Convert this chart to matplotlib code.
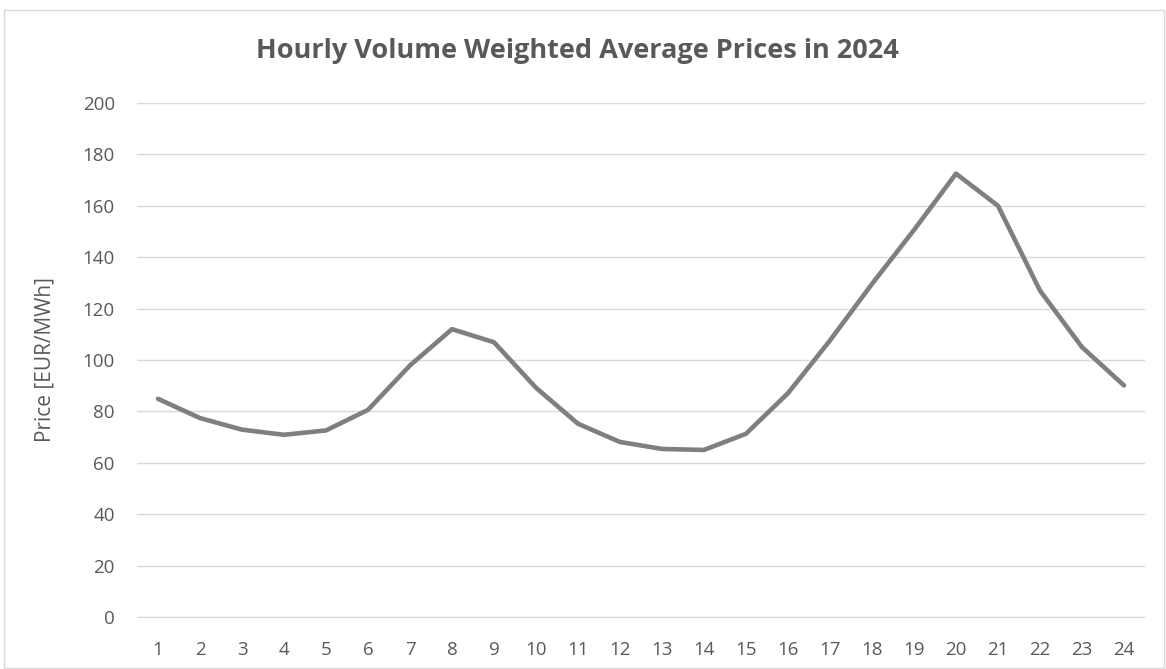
import matplotlib.pyplot as plt
from matplotlib.patches import Rectangle

hours = list(range(1, 25))
prices = [84.9, 77.4, 72.9, 70.9, 72.6, 80.6, 97.9, 112.0, 106.9, 89.2,
          75.2, 68.1, 65.4, 65.0, 71.3, 87.1, 107.6, 129.6, 150.6, 172.5,
          160.0, 127.0, 105.0, 90.1]
yticks = list(range(0, 201, 20))

plt.rcParams['font.family'] = ['Open Sans', 'DejaVu Sans']
txt = '#595959'

fig = plt.figure(figsize=(11.66, 6.69), dpi=100)
fig.patches.append(Rectangle((4 / 1166, 1 / 669), 1160 / 1166, 658 / 669,
                             transform=fig.transFigure, fill=False,
                             edgecolor='#d9d9d9', linewidth=1))
ax = fig.add_axes([137 / 1166, 1 - 617 / 669, 1008 / 1166, 514 / 669])

ax.plot(hours, prices, color='#7f7f7f', linewidth=3.3, solid_joinstyle='round',
        solid_capstyle='round', zorder=3)

ax.set_xlim(0.5, 24.5)
ax.set_ylim(0, 200)
ax.set_xticks(hours)
ax.set_yticks(yticks)
ax.tick_params(axis='both', length=0, labelsize=13.5, labelcolor=txt)
ax.tick_params(axis='x', pad=17)
ax.tick_params(axis='y', pad=16)
ax.grid(axis='y', color='#d9d9d9', linewidth=1)
ax.set_axisbelow(True)
for s in ['top', 'right', 'left']:
    ax.spines[s].set_visible(False)
ax.spines['bottom'].set_color('#d9d9d9')

ax.set_ylabel('Price [EUR/MWh]', fontsize=15, color=txt)
ax.yaxis.set_label_coords(-82 / 1008, 0.5)
fig.text(0.495, 1 - 51 / 669, 'Hourly Volume Weighted Average Prices in 2024',
         ha='center', va='center', fontsize=19.5, fontweight='bold', color=txt)

plt.savefig('out.png', dpi=100)
